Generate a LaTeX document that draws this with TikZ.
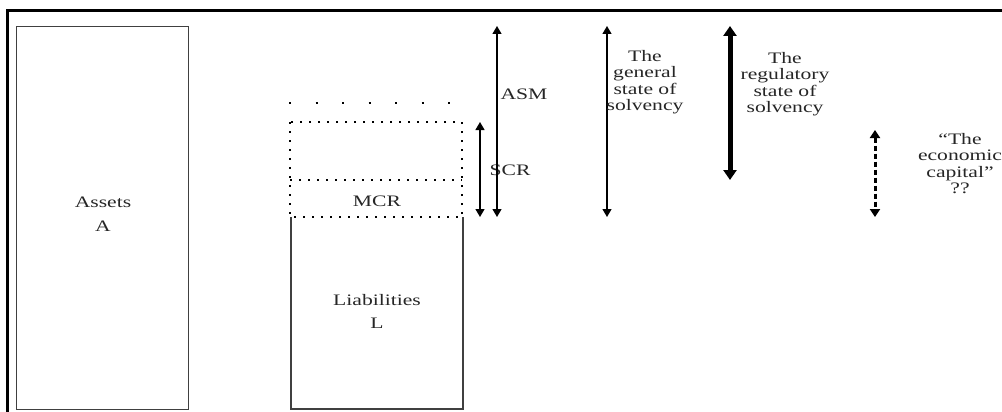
\documentclass[tikz,border=0pt]{standalone}
\usepackage{fontspec}
\setmainfont[FakeStretch=1.35]{Liberation Serif}
\usetikzlibrary{arrows.meta}
\begin{document}
\begin{tikzpicture}[x=1pt,y=-1pt,
  box/.style={draw=black!75, line width=1.3pt},
  lbl/.style={font=\fontsize{16}{16.5}\selectfont, align=center, inner sep=0pt, text=black!85},
  thinarr/.style={{Triangle[length=8pt,width=9pt]}-{Triangle[length=8pt,width=9pt]}, line width=1.3pt},
  thickarr/.style={{Triangle[length=10pt,width=13pt]}-{Triangle[length=10pt,width=13pt]}, line width=5pt},
  dasharr/.style={{Triangle[length=8pt,width=10pt]}-{Triangle[length=8pt,width=10pt]}, line width=3pt, dash pattern=on 5pt off 3pt},
  dots/.style={line width=2pt, dash pattern=on 2pt off 7pt, line cap=butt}
]
\useasboundingbox (0,0) rectangle (1002,412);
% frame
\coordinate (fbl) at (7,412);
\coordinate (ftl) at (7,11);
\coordinate (ftr) at (1002,11);
\draw[line width=3pt] (fbl) -- (ftl) -- (ftr);
% assets
\node[box, minimum width=172pt, minimum height=383pt, anchor=north west, inner sep=0pt] (assets) at (16,26) {};
\node[lbl] (assetst) at (103,202) {Assets};
\node[lbl] (assetsa) at (103,226) {A};
% liabilities
\coordinate (l1) at (291,217);
\coordinate (l2) at (291,409);
\coordinate (l3) at (463,409);
\coordinate (l4) at (463,217);
\draw[box] (l1) -- (l2) -- (l3) -- (l4);
\node[lbl] (liabt) at (377,300) {Liabilities};
\node[lbl] (liabl) at (377,323) {L};
% dotted rectangle
\coordinate (r1) at (290,122);
\coordinate (r2) at (462,217);
\draw[dots] (r1) rectangle (r2);
\coordinate (m1) at (290,180);
\coordinate (m2) at (462,180);
\draw[dots] (m1) -- (m2);
\node[lbl] (mcr) at (377,201) {MCR};
% top dotted row
\coordinate (d1) at (289,103);
\coordinate (d2) at (452,103);
\draw[line width=2pt, dash pattern=on 2pt off 24.5pt] (d1) -- (d2);
% SCR arrow
\coordinate (s1) at (480,122);
\coordinate (s2) at (480,217);
\draw[thinarr] (s1) -- (s2);
\node[lbl] (scr) at (510,170) {SCR};
% ASM arrow
\coordinate (a1) at (497,26);
\coordinate (a2) at (497,217);
\draw[thinarr] (a1) -- (a2);
\node[lbl] (asm) at (524,94) {ASM};
% general
\coordinate (g1) at (607,26);
\coordinate (g2) at (607,217);
\draw[thinarr] (g1) -- (g2);
\node[lbl, anchor=north] (gen) at (645,50) {The\\general\\state of\\solvency};
% regulatory
\coordinate (t1) at (730,26);
\coordinate (t2) at (730,180);
\draw[thickarr] (t1) -- (t2);
\node[lbl, anchor=north] (reg) at (785,52) {The\\regulatory\\state of\\solvency};
% economic
\coordinate (e1) at (875,130);
\coordinate (e2) at (875,217);
\draw[dasharr] (e1) -- (e2);
\node[lbl, anchor=north] (eco) at (960,133) {“The\\economic\\capital”\\??};
\end{tikzpicture}
\end{document}
